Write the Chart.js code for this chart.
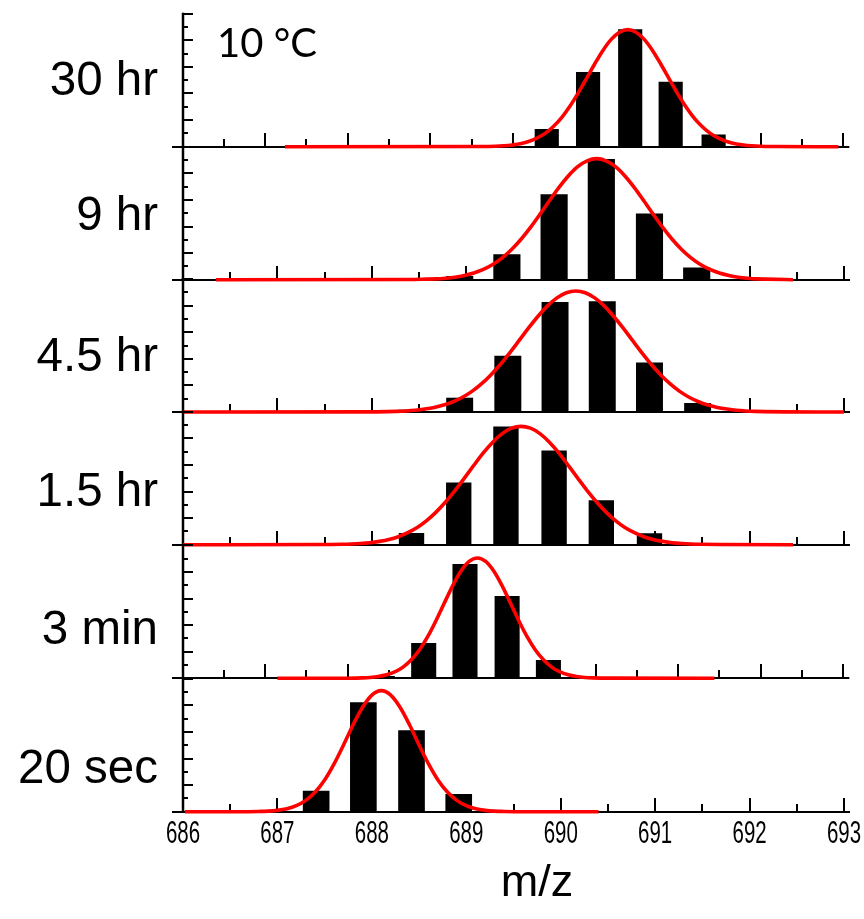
<!DOCTYPE html>
<html><head><meta charset="utf-8">
<script src="https://cdn.jsdelivr.net/npm/chart.js@4.4.1/dist/chart.umd.min.js"></script>
<style>
html,body{margin:0;padding:0;background:#fff;overflow:hidden;width:864px;height:919px;}
#wrap{position:relative;width:864px;height:919px;overflow:hidden;background:#fff;}
canvas{position:absolute;left:0;top:0;}
.lab{position:absolute;font-family:'Liberation Sans',Arial,sans-serif;font-size:47.5px;line-height:1;color:#000;white-space:nowrap;transform:translateY(-50%);}
</style></head><body><div id="wrap"></div>
<script>
// ---------------- data ----------------
const panelLabels = ['30 hr', '9 hr', '4.5 hr', '1.5 hr', '3 min', '20 sec'];
const tempLabel = '10 °C';
const xTickLabels = ['686', '687', '688', '689', '690', '691', '692', '693'];
const axisTitle = 'm/z';

// 30 hr
const barMz_30hr = [690.41, 690.91, 691.42, 691.91, 692.43];
const barInt_30hr = [13, 56, 88, 48.5, 9];
const fitMz_30hr = [687.24, 689.59, 689.79, 689.89, 689.99, 690.09, 690.19, 690.29, 690.39, 690.49, 690.59, 690.69, 690.79, 690.89, 690.99, 691.09, 691.19, 691.29, 691.39, 691.49, 691.59, 691.69, 691.79, 691.89, 691.99, 692.09, 692.19, 692.29, 692.39, 692.49, 692.59, 692.69, 692.79, 692.89, 692.99, 693.19, 693.94];
const fitInt_30hr = [0, 0.1, 0.3, 0.7, 1.3, 2.2, 3.9, 6.4, 10.0, 15.2, 21.9, 30.4, 40.3, 51.2, 62.2, 72.4, 80.7, 86.1, 88, 86.1, 80.7, 72.4, 62.2, 51.2, 40.3, 30.4, 21.9, 15.2, 10.0, 6.4, 3.9, 2.2, 1.3, 0.7, 0.3, 0.1, 0];

// 9 hr
const barMz_9hr = [688.93, 689.43, 689.93, 690.43, 690.94, 691.44];
const barInt_9hr = [2.5, 18.8, 64, 90.5, 49.5, 9];
const fitMz_9hr = [686.35, 688.38, 688.58, 688.68, 688.78, 688.88, 688.98, 689.08, 689.18, 689.28, 689.38, 689.48, 689.58, 689.68, 689.78, 689.88, 689.98, 690.08, 690.18, 690.28, 690.38, 690.48, 690.58, 690.68, 690.78, 690.88, 690.98, 691.08, 691.18, 691.28, 691.38, 691.48, 691.58, 691.68, 691.78, 691.88, 691.98, 692.08, 692.18, 692.38, 692.46];
const fitInt_9hr = [0, 0.1, 0.4, 0.6, 1.1, 1.9, 3.2, 5.0, 7.7, 11.4, 16.4, 22.7, 30.4, 39.3, 49.1, 59.3, 69.2, 78.0, 85.0, 89.4, 91, 89.4, 85.0, 78.0, 69.2, 59.3, 49.1, 39.3, 30.4, 22.7, 16.4, 11.4, 7.7, 5.0, 3.2, 1.9, 1.1, 0.6, 0.4, 0.1, 0];

// 4.5 hr
const barMz_4p5hr = [688.42, 688.93, 689.44, 689.94, 690.44, 690.94, 691.45];
const barInt_4p5hr = [1.5, 10.5, 42, 82.5, 83, 37, 6.5];
const fitMz_4p5hr = [686, 687.96, 688.16, 688.26, 688.36, 688.46, 688.56, 688.66, 688.76, 688.86, 688.96, 689.06, 689.16, 689.26, 689.36, 689.46, 689.56, 689.66, 689.76, 689.86, 689.96, 690.06, 690.16, 690.26, 690.36, 690.46, 690.56, 690.66, 690.76, 690.86, 690.96, 691.06, 691.16, 691.26, 691.36, 691.46, 691.56, 691.66, 691.76, 691.86, 691.96, 692.06, 692.16, 692.36, 693];
const fitInt_4p5hr = [0, 0.1, 0.3, 0.5, 0.8, 1.3, 2.2, 3.4, 5.2, 7.7, 11.1, 15.5, 21.1, 27.9, 35.7, 44.5, 53.8, 63.2, 72.0, 79.8, 85.8, 89.7, 91, 89.7, 85.8, 79.8, 72.0, 63.2, 53.8, 44.5, 35.7, 27.9, 21.1, 15.5, 11.1, 7.7, 5.2, 3.4, 2.2, 1.3, 0.8, 0.5, 0.3, 0.1, 0];

// 1.5 hr
const barMz_1p5hr = [688.42, 688.92, 689.42, 689.93, 690.43, 690.94];
const barInt_1p5hr = [8.5, 46.5, 88.7, 70.5, 33.2, 8.3];
const fitMz_1p5hr = [686, 687.48, 687.68, 687.78, 687.88, 687.98, 688.08, 688.18, 688.28, 688.38, 688.48, 688.58, 688.68, 688.78, 688.88, 688.98, 689.08, 689.18, 689.28, 689.38, 689.48, 689.58, 689.68, 689.78, 689.88, 689.98, 690.08, 690.18, 690.28, 690.38, 690.48, 690.58, 690.68, 690.78, 690.88, 690.98, 691.08, 691.18, 691.28, 691.38, 691.48, 691.68, 692.46];
const fitInt_1p5hr = [0, 0.1, 0.3, 0.5, 0.9, 1.5, 2.5, 3.9, 6.0, 9.0, 12.9, 18.1, 24.5, 32.1, 40.7, 50.1, 59.7, 69.0, 77.1, 83.5, 87.6, 89, 87.6, 83.5, 77.1, 69.0, 59.7, 50.1, 40.7, 32.1, 24.5, 18.1, 12.9, 9.0, 6.0, 3.9, 2.5, 1.5, 0.9, 0.5, 0.3, 0.1, 0];

// 3 min
const barMz_3min = [688.42, 688.92, 689.42, 689.93, 690.43];
const barInt_3min = [1.5, 26.3, 85.7, 61.7, 13.5];
const fitMz_3min = [687.15, 687.97, 688.17, 688.27, 688.37, 688.47, 688.57, 688.67, 688.77, 688.87, 688.97, 689.07, 689.17, 689.27, 689.37, 689.47, 689.57, 689.67, 689.77, 689.87, 689.97, 690.07, 690.17, 690.27, 690.37, 690.47, 690.57, 690.67, 690.77, 690.87, 690.97, 691.17, 692.44];
const fitInt_3min = [0, 0, 0.3, 0.6, 1.3, 2.6, 4.8, 8.4, 13.9, 21.5, 31.5, 43.5, 56.6, 69.5, 80.5, 87.9, 90.5, 87.9, 80.5, 69.5, 56.6, 43.5, 31.5, 21.5, 13.9, 8.4, 4.8, 2.6, 1.3, 0.6, 0.3, 0.1, 0];

// 20 sec
const barMz_20sec = [687.41, 687.91, 688.42, 688.92];
const barInt_20sec = [15.5, 82, 61, 13];
const fitMz_20sec = [686.02, 686.6, 686.8, 686.9, 687.0, 687.1, 687.2, 687.3, 687.4, 687.5, 687.6, 687.7, 687.8, 687.9, 688.0, 688.1, 688.2, 688.3, 688.4, 688.5, 688.6, 688.7, 688.8, 688.9, 689.0, 689.1, 689.2, 689.3, 689.4, 689.6, 690.4];
const fitInt_20sec = [0, 0, 0.2, 0.4, 1.0, 2.2, 4.5, 8.5, 14.8, 23.9, 36.0, 50.2, 65.2, 78.4, 87.7, 91, 87.7, 78.4, 65.2, 50.2, 36.0, 23.9, 14.8, 8.5, 4.5, 2.2, 1.0, 0.4, 0.2, 0, 0];

// ---------------- layout ----------------
const W = 900, H = 919;
const panels = [
  {name: panelLabels[0], mz: barMz_30hr, ints: barInt_30hr, fx: fitMz_30hr, fy: fitInt_30hr, xMax: 694, base: 146.7, left: 182.5, right: 843.3, barW: 23.5, labelY: 79},
  {name: panelLabels[1], mz: barMz_9hr, ints: barInt_9hr, fx: fitMz_9hr, fy: fitInt_9hr, xMax: 693, base: 279.7, left: 183, right: 844, barW: 26.5, labelY: 214},
  {name: panelLabels[2], mz: barMz_4p5hr, ints: barInt_4p5hr, fx: fitMz_4p5hr, fy: fitInt_4p5hr, xMax: 693, base: 412, left: 183, right: 844, barW: 26.3, labelY: 355},
  {name: panelLabels[3], mz: barMz_1p5hr, ints: barInt_1p5hr, fx: fitMz_1p5hr, fy: fitInt_1p5hr, xMax: 693, base: 544.7, left: 183, right: 844, barW: 24.7, labelY: 490},
  {name: panelLabels[4], mz: barMz_3min, ints: barInt_3min, fx: fitMz_3min, fy: fitInt_3min, xMax: 694, base: 678.3, left: 182.5, right: 843.3, barW: 24.4, labelY: 628},
  {name: panelLabels[5], mz: barMz_20sec, ints: barInt_20sec, fx: fitMz_20sec, fy: fitInt_20sec, xMax: 693, base: 811.7, left: 183, right: 844, barW: 26, labelY: 767, showLabels: true}
];

const axisPlugin = {
  id: 'panelAxes',
  beforeDatasetsDraw(chart) {
    const {ctx, chartArea} = chart;
    const x = chart.scales.x, y = chart.scales.y;
    const base = Math.round(y.getPixelForValue(0));
    const left = Math.round(chartArea.left);
    ctx.save();
    ctx.strokeStyle = '#000';
    ctx.lineCap = 'butt';
    ctx.lineWidth = 2;
    ctx.beginPath();
    ctx.moveTo(left - 11, base);
    ctx.lineTo(chartArea.right + 6, base);
    ctx.stroke();
    ctx.lineWidth = 2.5;
    ctx.beginPath();
    ctx.moveTo(left, y.getPixelForValue(100) - 1);
    ctx.lineTo(left, base + 1);
    ctx.stroke();
    ctx.lineWidth = 2;
    ctx.beginPath();
    for (let v = x.min + 0.5; v <= x.max + 1e-6; v += 0.5) {
      const px = Math.round(x.getPixelForValue(v));
      const major = Math.abs(v - Math.round(v)) < 1e-6;
      ctx.moveTo(px, base);
      ctx.lineTo(px, base - (major ? 14 : 8));
    }
    for (let v = 10; v <= 100; v += 10) {
      const py = Math.round(y.getPixelForValue(v));
      ctx.moveTo(left, py);
      ctx.lineTo(left + (v % 20 === 0 ? 10 : 5), py);
    }
    ctx.stroke();
    ctx.restore();
  },
  afterDraw(chart, args, opts) {
    if (!opts.showLabels) return;
    const {ctx} = chart;
    const x = chart.scales.x, y = chart.scales.y;
    const base = y.getPixelForValue(0);
    ctx.save();
    ctx.fillStyle = '#000';
    ctx.font = "32px 'Liberation Sans', Arial, sans-serif";
    ctx.textAlign = 'center';
    ctx.textBaseline = 'alphabetic';
    xTickLabels.forEach((lab) => {
      const px = x.getPixelForValue(Number(lab));
      ctx.save();
      ctx.translate(px, base + 31);
      ctx.scale(0.64, 1);
      ctx.fillText(lab, 0, 0);
      ctx.restore();
    });
    ctx.restore();
  }
};

const wrap = document.getElementById('wrap');
panels.forEach((p) => {
  const cv = document.createElement('canvas');
  cv.width = W; cv.height = H;
  cv.style.width = W + 'px'; cv.style.height = H + 'px';
  wrap.appendChild(cv);
  new Chart(cv.getContext('2d'), {
    type: 'bar',
    data: {
      datasets: [
        {
          type: 'line',
          data: p.fx.map((v, k) => ({x: v, y: p.fy[k]})),
          borderColor: '#ff0000',
          borderWidth: 3.6,
          pointRadius: 0,
          cubicInterpolationMode: 'monotone',
          fill: false,
          clip: false,
          order: 0
        },
        {
          type: 'bar',
          data: p.mz.map((v, k) => ({x: v, y: p.ints[k]})),
          backgroundColor: '#000',
          borderWidth: 0,
          barThickness: p.barW,
          order: 1
        }
      ]
    },
    options: {
      responsive: false,
      animation: false,
      devicePixelRatio: 1,
      events: [],
      layout: {padding: {left: p.left, right: W - p.right, top: p.base - 133, bottom: H - p.base}},
      plugins: {legend: {display: false}, tooltip: {enabled: false}, panelAxes: {showLabels: !!p.showLabels}},
      scales: {
        x: {type: 'linear', min: 686, max: p.xMax, offset: false, display: false},
        y: {type: 'linear', min: 0, max: 100, display: false, offset: false}
      }
    },
    plugins: [axisPlugin]
  });
  const lab = document.createElement('div');
  lab.className = 'lab';
  lab.textContent = p.name;
  lab.style.right = (864 - 158) + 'px';
  lab.style.top = p.labelY + 'px';
  wrap.appendChild(lab);
});

const t = document.createElement('div');
t.className = 'lab';
t.textContent = tempLabel;
t.style.fontFamily = "Lato, 'Open Sans', sans-serif";
t.style.fontSize = '40px';
t.style.left = '217px';
t.style.top = '42px';
wrap.appendChild(t);

const m = document.createElement('div');
m.className = 'lab';
m.textContent = axisTitle;
m.style.fontSize = '45px';
m.style.left = '537px';
m.style.top = '880px';
m.style.transform = 'translate(-50%,-50%)';
wrap.appendChild(m);
</script></body></html>
